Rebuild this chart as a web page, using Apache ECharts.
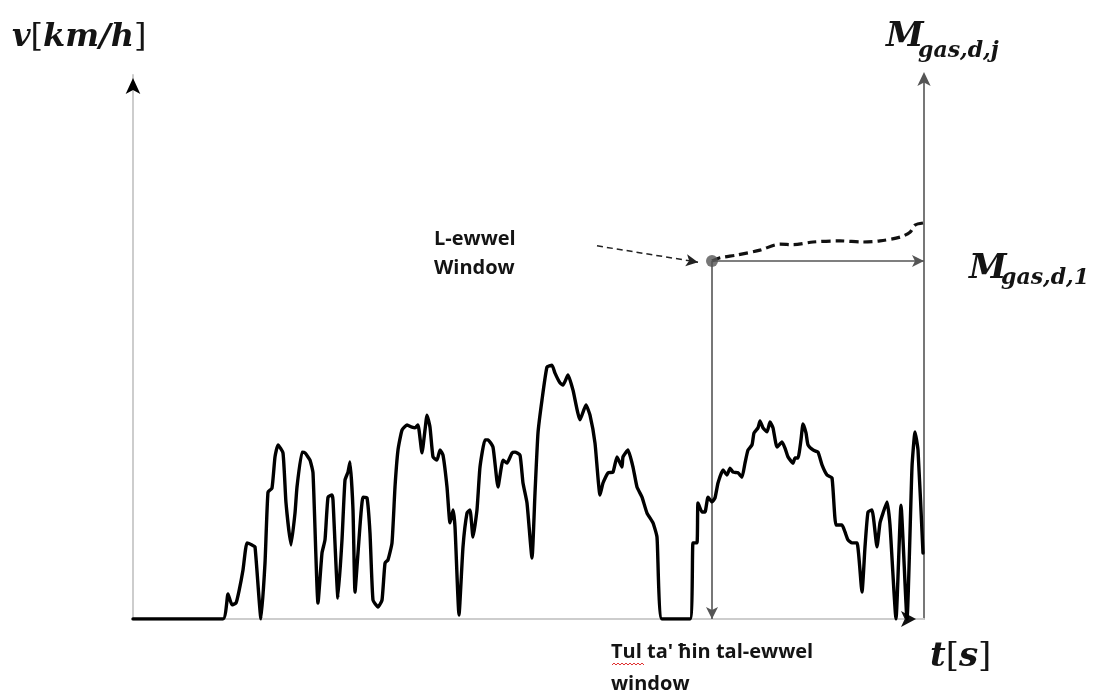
<!DOCTYPE html>
<html>
<head>
<meta charset="utf-8">
<script src="https://cdn.jsdelivr.net/npm/echarts@6/dist/echarts.min.js"></script>
<style>
  html, body { margin: 0; padding: 0; background: #ffffff; }
  #chart { width: 1094px; height: 695px; }
</style>
</head>
<body>
<div id="chart"></div>
<script>
// Vehicle speed trace: time [s] and speed [km/h]
const timeS = [
  0, 180, 190, 198, 206, 212, 220, 228, 238, 244, 256, 264, 270, 278, 284, 290,
  300, 306, 316, 324, 328, 338, 344, 354, 360, 370, 378, 384, 390, 398, 400, 410,
  418, 424, 430, 434, 440, 444, 450, 460, 468, 474, 480, 490, 498, 504, 510, 518,
  524, 530, 538, 548, 558, 564, 570, 578, 584, 588, 594, 600, 608, 614, 620, 628,
  634, 640, 644, 652, 660, 668, 674, 680, 688, 694, 704, 710, 720, 730, 740, 748,
  758, 764, 774, 780, 788, 798, 804, 810, 818, 828, 838, 844, 854, 860, 870, 880,
  894, 906, 914, 924, 934, 940, 950, 960, 968, 978, 980, 990, 1000, 1008, 1018, 1028,
  1040, 1048, 1058, 1114, 1120, 1128, 1130, 1138, 1144, 1150, 1158, 1164, 1170, 1180, 1188, 1194,
  1200, 1210, 1218, 1224, 1230, 1238, 1242, 1250, 1254, 1260, 1268, 1274, 1280, 1288, 1298, 1304,
  1310, 1320, 1324, 1330, 1336, 1340, 1346, 1350, 1360, 1370, 1378, 1388, 1398, 1406, 1418, 1424,
  1430, 1438, 1448, 1458, 1464, 1470, 1478, 1488, 1494, 1500, 1508, 1514, 1526, 1536, 1548, 1558,
  1564, 1570, 1580
];
const speedKmh = [
  0, 0, 6.9, 3.9, 4.4, 7.7, 13.5, 21.0, 20.4, 19.9, 0, 15.4, 35.0, 36.1, 44.7, 48.0,
  45.8, 32.0, 20.4, 29.2, 36.4, 46.0, 45.8, 43.8, 40.3, 4.4, 18.2, 21.8, 33.6, 34.2, 32.8, 5.8,
  21.8, 38.3, 40.5, 43.3, 30.1, 7.4, 18.2, 33.6, 33.4, 23.7, 5.2, 3.3, 5.2, 15.4, 16.3, 21.0,
  36.4, 46.6, 52.1, 53.5, 52.9, 52.7, 53.5, 45.8, 52.1, 56.2, 52.9, 44.7, 43.8, 46.6, 45.2, 36.4,
  26.5, 30.1, 25.4, 1.1, 19.9, 29.2, 30.1, 22.6, 30.1, 41.9, 49.4, 49.4, 47.4, 36.4, 43.8, 43.0,
  45.8, 46.0, 45.2, 37.5, 32.0, 16.8, 34.7, 51.3, 60.4, 69.5, 70.0, 67.8, 65.1, 64.5, 67.3, 63.1,
  54.9, 59.0, 56.2, 48.5, 34.2, 37.5, 40.3, 40.5, 44.7, 41.9, 44.7, 46.6, 41.9, 36.4, 33.6, 29.2,
  26.5, 22.6, 0, 0, 21.0, 21.0, 32.0, 29.5, 29.5, 33.6, 32.3, 33.4, 37.5, 41.1, 39.7, 41.6,
  40.5, 40.3, 39.1, 43.0, 46.6, 48.0, 51.3, 52.7, 54.6, 52.7, 51.6, 54.3, 52.7, 47.4, 48.8, 47.1,
  44.7, 43.0, 44.4, 44.4, 49.4, 53.8, 51.3, 48.0, 46.6, 46.0, 42.5, 39.7, 38.9, 25.9, 25.9, 24.0,
  21.8, 21.0, 21.0, 7.4, 19.9, 29.5, 30.1, 19.9, 26.5, 29.2, 32.3, 25.9, 0, 31.4, 0, 41.9,
  51.6, 46.6, 18.2
];

// Cumulative gaseous mass over the first averaging window
const massTime = [1158, 1174, 1208, 1254, 1294, 1320, 1360, 1414, 1460, 1494, 1534, 1554, 1564, 1580];
const massGas = [6.58, 6.64, 6.69, 6.78, 6.89, 6.88, 6.93, 6.95, 6.93, 6.95, 7.02, 7.11, 7.24, 7.28];

// Start of the first window and the pointer from its caption
const windowStart = [1158, 6.58];
const pointerFrom = [928, 6.86];
const pointerTo = [1130, 6.56];

const T_MAX = 1582;
const V_MAX = 150;
const M_MAX = 10;

const speedData = timeS.map((t, i) => [t, speedKmh[i]]);
const massData = massTime.map((t, i) => [t, massGas[i]]);

const serif = '"DejaVu Serif", "Liberation Serif", serif';
const sans = '"Open Sans", Lato, "Noto Sans", sans-serif';
const ink = '#141414';

const chart = echarts.init(document.getElementById('chart'), null, { renderer: 'canvas' });

const hiddenAxisParts = {
  axisTick: { show: false },
  axisLabel: { show: false },
  splitLine: { show: false }
};

const option = {
  animation: false,
  backgroundColor: '#ffffff',
  grid: { left: 133, right: 170, top: 75, bottom: 76 },
  xAxis: {
    type: 'value', min: 0, max: T_MAX,
    axisLine: { show: true, onZero: false, lineStyle: { color: '#cdcdcd', width: 2 } },
    ...hiddenAxisParts
  },
  yAxis: [
    {
      type: 'value', min: 0, max: V_MAX, position: 'left',
      axisLine: { show: true, onZero: false, lineStyle: { color: '#cdcdcd', width: 2 } },
      ...hiddenAxisParts
    },
    {
      type: 'value', min: 0, max: M_MAX, position: 'right',
      axisLine: {
        show: true, onZero: false,
        lineStyle: { color: '#555555', width: 1.6 },
        symbol: ['none', 'arrow'], symbolSize: [10, 14], symbolOffset: [0, 3]
      },
      ...hiddenAxisParts
    }
  ],
  series: [
    {
      name: 'v',
      type: 'line',
      data: speedData,
      showSymbol: false,
      symbol: 'none',
      smooth: 0.15,
      lineStyle: { color: '#000000', width: 3.4, join: 'round', cap: 'round' },
      z: 5,
      silent: true,
      markPoint: {
        silent: true,
        label: { show: false },
        data: [
          // axis arrowheads
          { coord: [0, V_MAX], symbol: 'arrow', symbolSize: [11, 16], symbolOffset: [0, 3],
            itemStyle: { color: '#000000' } },
          { coord: [T_MAX, 0], symbol: 'arrow', symbolSize: [12, 15], symbolRotate: -90,
            symbolOffset: [-8, 0], itemStyle: { color: '#111111' } }
        ]
      }
    },
    {
      name: 'M',
      type: 'line',
      yAxisIndex: 1,
      data: massData,
      showSymbol: false,
      symbol: 'none',
      smooth: 0.3,
      lineStyle: { color: '#111111', width: 3.2, type: [9, 5] },
      z: 4,
      silent: true,
      markLine: {
        silent: true,
        animation: false,
        label: { show: false },
        emphasis: { disabled: true },
        symbol: ['none', 'arrow'],
        symbolSize: [9, 12],
        data: [
          [
            { coord: [windowStart[0], windowStart[1]], lineStyle: { color: '#555555', width: 1.6, type: 'solid' } },
            { coord: [windowStart[0], 0] }
          ],
          [
            { coord: [windowStart[0], windowStart[1]], lineStyle: { color: '#555555', width: 1.6, type: 'solid' } },
            { coord: [T_MAX, windowStart[1]] }
          ],
          [
            { coord: pointerFrom, lineStyle: { color: '#222222', width: 1.5, type: [6, 4] } },
            { coord: pointerTo }
          ]
        ]
      }
    },
    {
      name: 'window start',
      type: 'scatter',
      yAxisIndex: 1,
      data: [windowStart],
      symbol: 'circle',
      symbolSize: 12,
      itemStyle: { color: '#555555' },
      z: 6,
      silent: true
    }
  ],
  graphic: [
    {
      type: 'text', left: 12, top: 22,
      style: {
        text: '{i|v}{n|[}{i|km/h}{n|]}',
        rich: {
          i: { fontFamily: serif, fontSize: 32, fontWeight: 'bold', fontStyle: 'italic', fill: ink },
          n: { fontFamily: serif, fontSize: 32, fontWeight: 'normal', fill: ink }
        }
      }
    },
    { type: 'text', x: 886, y: 20,
      style: { text: 'M', fontFamily: serif, fontSize: 34, fontWeight: 'bold', fontStyle: 'italic', fill: ink } },
    { type: 'text', x: 918, y: 40,
      style: { text: 'gas,d,j', fontFamily: serif, fontSize: 22, fontWeight: 'bold', fontStyle: 'italic', fill: ink } },
    { type: 'text', x: 969, y: 252,
      style: { text: 'M', fontFamily: serif, fontSize: 34, fontWeight: 'bold', fontStyle: 'italic', fill: ink } },
    { type: 'text', x: 1001, y: 267,
      style: { text: 'gas,d,1', fontFamily: serif, fontSize: 22, fontWeight: 'bold', fontStyle: 'italic', fill: ink } },
    {
      type: 'text', x: 930, y: 640,
      style: {
        text: '{i|t}{n|[}{i|s}{n|]}',
        rich: {
          i: { fontFamily: serif, fontSize: 34, fontWeight: 'bold', fontStyle: 'italic', fill: ink },
          n: { fontFamily: serif, fontSize: 34, fontWeight: 'normal', fill: ink }
        }
      }
    },
    { type: 'text', x: 434, y: 229,
      style: { text: 'L-ewwel', fontFamily: sans, fontSize: 20, fontWeight: 'bold', fill: ink } },
    { type: 'text', x: 434, y: 258,
      style: { text: 'Window', fontFamily: sans, fontSize: 20, fontWeight: 'bold', fill: ink } },
    { type: 'text', x: 611, y: 642,
      style: { text: "Tul ta' ħin tal-ewwel", fontFamily: sans, fontSize: 20, fontWeight: 'bold', fill: ink } },
    { type: 'text', x: 611, y: 674,
      style: { text: 'window', fontFamily: sans, fontSize: 20, fontWeight: 'bold', fill: ink } },
    // spell-check squiggle under "Tul"
    {
      type: 'polyline',
      shape: { points: [[612, 665], [614, 663], [616, 665], [618, 663], [620, 665], [622, 663], [624, 665], [626, 663], [628, 665], [630, 663], [632, 665], [634, 663], [636, 665], [638, 663], [640, 665], [642, 663], [644, 665]] },
      style: { stroke: '#e03030', lineWidth: 1, fill: null }
    }
  ]
};

chart.setOption(option);
</script>
</body>
</html>
